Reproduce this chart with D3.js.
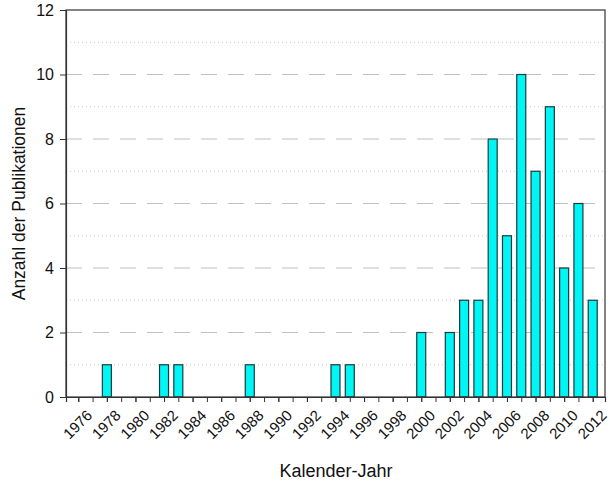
<!DOCTYPE html>
<html>
<head>
<meta charset="utf-8">
<script src="https://cdn.jsdelivr.net/npm/d3@7"></script>
<style>
  body { margin: 0; background: #fff; }
  svg { font-family: "Liberation Sans", Arial, sans-serif; }
</style>
</head>
<body>
<svg id="chart" width="610" height="484"></svg>
<script>
// Publikationen pro Kalender-Jahr
var years  = [1978, 1982, 1983, 1988, 1994, 1995, 2000, 2002, 2003, 2004, 2005, 2006, 2007, 2008, 2009, 2010, 2011, 2012];
var counts = [1, 1, 1, 1, 1, 1, 2, 2, 3, 3, 8, 5, 10, 7, 9, 4, 6, 3];
var yearTicks  = d3.range(1976, 2013, 2);
var yMajorTicks = [0, 2, 4, 6, 8, 10, 12];
var yMinorTicks = [1, 3, 5, 7, 9, 11];

var data = years.map(function(y, i){ return { year: y, value: counts[i] }; });

var svg = d3.select("#chart");
var margin = {top: 10, right: 5, bottom: 87, left: 66};
var width = 610 - margin.left - margin.right;
var height = 484 - margin.top - margin.bottom;

var g = svg.append("g").attr("transform", "translate(" + margin.left + "," + margin.top + ")");

var x = d3.scaleLinear().domain([1975.14, 2012.86]).range([0, width]);
var y = d3.scaleLinear().domain([0, 12]).range([height, 0]);

// gridlines
g.selectAll(".grid-major")
  .data(yMajorTicks.filter(function(v){ return v > 0 && v < 12; }))
  .enter().append("line")
  .attr("x1", 0).attr("x2", width)
  .attr("y1", function(d){ return y(d); }).attr("y2", function(d){ return y(d); })
  .attr("stroke", "#c0c0c0")
  .attr("stroke-width", 1.2)
  .attr("stroke-dasharray", "16 11");

g.selectAll(".grid-minor")
  .data(yMinorTicks)
  .enter().append("line")
  .attr("x1", 0).attr("x2", width)
  .attr("y1", function(d){ return y(d); }).attr("y2", function(d){ return y(d); })
  .attr("stroke", "#c8c8c8")
  .attr("stroke-width", 1)
  .attr("stroke-dasharray", "1 3");

// bars
var barW = x(1975.14 + 0.63) - x(1975.14);
g.selectAll(".bar")
  .data(data)
  .enter().append("rect")
  .attr("x", function(d){ return x(d.year) - barW / 2; })
  .attr("y", function(d){ return y(d.value); })
  .attr("width", barW)
  .attr("height", function(d){ return height - y(d.value); })
  .attr("fill", "#00f5f5")
  .attr("stroke", "#1c3c3c")
  .attr("stroke-width", 1.2);

// frame
g.append("rect")
  .attr("width", width).attr("height", height)
  .attr("fill", "none")
  .attr("stroke", "#333")
  .attr("stroke-width", 1.2);

// x axis: minor ticks every year
var xMinor = g.append("g")
  .attr("transform", "translate(0," + height + ")")
  .call(d3.axisBottom(x).tickValues(d3.range(1976, 2013)).tickSize(5).tickFormat(""));
xMinor.select(".domain").remove();

var xAxis = g.append("g")
  .attr("transform", "translate(0," + height + ")")
  .call(d3.axisBottom(x).tickValues(yearTicks).tickSize(5).tickFormat(d3.format("d")));
xAxis.select(".domain").attr("stroke", "#333").attr("stroke-width", 1.2);
xAxis.selectAll("line").attr("stroke", "#333");
xMinor.selectAll("line").attr("stroke", "#333");
xAxis.selectAll("text")
  .attr("font-size", 15)
  .attr("fill", "#111")
  .attr("text-anchor", "end")
  .attr("dy", "0.35em")
  .attr("transform", "translate(5,10) rotate(-45)");

// y axis
var yAxis = g.append("g")
  .call(d3.axisLeft(y).tickValues(yMajorTicks).tickSize(6).tickPadding(6));
yAxis.select(".domain").attr("stroke", "#333").attr("stroke-width", 1.2);
yAxis.selectAll("line").attr("stroke", "#333");
yAxis.selectAll("text")
  .attr("font-size", 16)
  .attr("fill", "#111");

// axis titles
svg.append("text")
  .attr("x", 336)
  .attr("y", 477)
  .attr("text-anchor", "middle")
  .attr("font-size", 18)
  .attr("fill", "#111")
  .text("Kalender-Jahr");

svg.append("text")
  .attr("transform", "translate(25," + (margin.top + height / 2) + ") rotate(-90)")
  .attr("text-anchor", "middle")
  .attr("font-size", 17.5)
  .attr("fill", "#111")
  .text("Anzahl der Publikationen");
</script>
</body>
</html>
